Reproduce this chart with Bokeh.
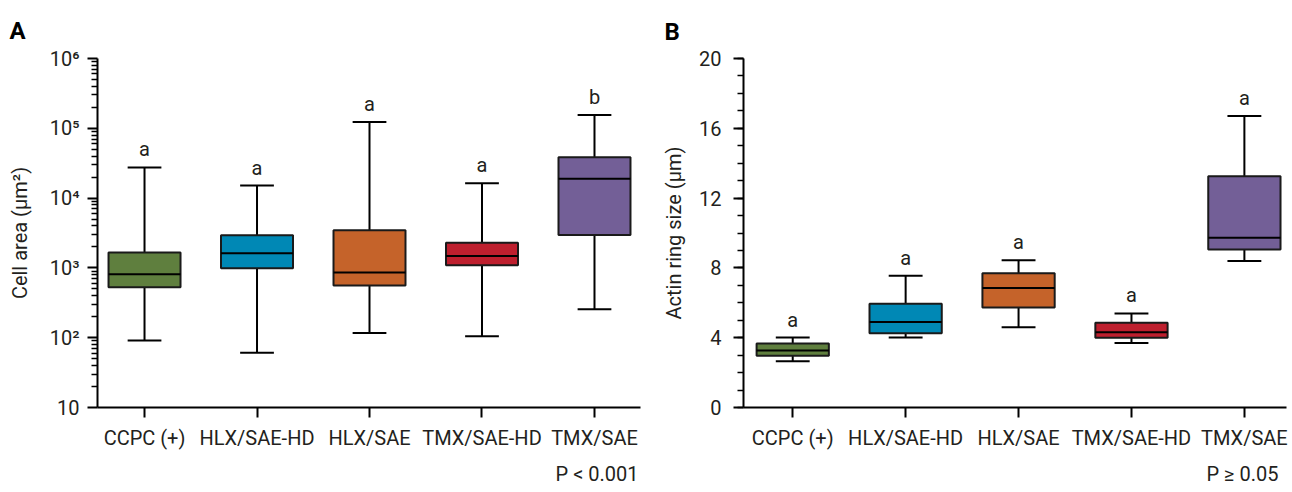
from bokeh.plotting import figure
from bokeh.layouts import row
from bokeh.models import Range1d, FixedTicker, ColumnDataSource, Title
from bokeh.core.properties import value
from bokeh.embed import file_html
from bokeh.resources import INLINE

# ---------------- data ----------------
categories = ["CCPC (+)", "HLX/SAE-HD", "HLX/SAE", "TMX/SAE-HD", "TMX/SAE"]
colors = ["#5f7f3e", "#0088b5", "#c5632a", "#be1f2e", "#735f97"]

area_min = [91, 61, 117, 105, 256]
area_q1 = [527, 990, 560, 1090, 2960]
area_med = [813, 1620, 860, 1480, 19000]
area_q3 = [1660, 2940, 3470, 2290, 38600]
area_max = [27500, 15100, 123000, 16300, 155000]
area_letters = ["a", "a", "a", "a", "b"]

ring_min = [2.65, 4.01, 4.60, 3.69, 8.40]
ring_q1 = [2.97, 4.26, 5.73, 3.99, 9.05]
ring_med = [3.27, 4.90, 6.85, 4.31, 9.73]
ring_q3 = [3.67, 5.94, 7.70, 4.86, 13.25]
ring_max = [4.01, 7.55, 8.44, 5.39, 16.71]
ring_letters = ["a", "a", "a", "a", "a"]

area_ticks = [10, 100, 1000, 10000, 100000, 1000000]
area_tick_labels = ["10", "10²", "10³", "10⁴", "10⁵", "10⁶"]
ring_ticks = [0, 4, 8, 12, 16, 20]

FONT = "Roboto"
TXT = "#231f20"
BOX_W = 0.64
CAP_W = 0.30


def style(p):
    p.outline_line_color = None
    p.xgrid.visible = False
    p.ygrid.visible = False
    for ax in (p.xaxis[0], p.yaxis[0]):
        ax.axis_line_width = 2
        ax.axis_line_color = "black"
        ax.major_tick_line_width = 2
        ax.minor_tick_line_width = 1.5
        ax.major_tick_in = 0
        ax.major_tick_out = 10
        ax.minor_tick_in = 0
        ax.minor_tick_out = 6
        ax.major_label_text_font = FONT
        ax.major_label_text_font_size = "20px"
        ax.major_label_text_color = TXT
        ax.axis_label_text_font = FONT
        ax.axis_label_text_font_size = "20px"
        ax.axis_label_text_font_style = "normal"
        ax.axis_label_text_color = TXT
    p.xaxis.ticker = FixedTicker(ticks=list(range(len(categories))))
    p.xaxis.major_label_overrides = {i: c for i, c in enumerate(categories)}
    p.xaxis.major_label_standoff = 8


def decorate(p, letter, letter_offset, letter_standoff, ptext, p_offset):
    p.title.text = letter
    p.title.align = "left"
    p.title.offset = letter_offset
    p.title.text_font = FONT
    p.title.text_font_size = "24px"
    p.title.text_font_style = "bold"
    p.title.text_color = "black"
    p.title.standoff = letter_standoff
    p.add_layout(Title(text=ptext, align="right", offset=p_offset, text_font=FONT,
                       text_font_size="20px", text_font_style="normal",
                       text_color=TXT, standoff=14), "below")


def boxes(p, lo, q1, med, q3, hi, letters):
    xs = list(range(len(categories)))
    src = ColumnDataSource(dict(x=xs, lo=lo, q1=q1, med=med, q3=q3, hi=hi,
                                color=colors, letter=letters,
                                cl=[x - CAP_W / 2 for x in xs], cr=[x + CAP_W / 2 for x in xs],
                                bl=[x - BOX_W / 2 for x in xs], br=[x + BOX_W / 2 for x in xs]))
    p.segment(x0="x", y0="q3", x1="x", y1="hi", source=src, line_color="black", line_width=2)
    p.segment(x0="x", y0="lo", x1="x", y1="q1", source=src, line_color="black", line_width=2)
    p.segment(x0="cl", y0="hi", x1="cr", y1="hi", source=src, line_color="black", line_width=2)
    p.segment(x0="cl", y0="lo", x1="cr", y1="lo", source=src, line_color="black", line_width=2)
    p.vbar(x="x", bottom="q1", top="q3", width=BOX_W, source=src, fill_color="color",
           line_color="#1a1a1a", line_width=2)
    p.segment(x0="bl", y0="med", x1="br", y1="med", source=src, line_color="black", line_width=2)
    p.text(x="x", y="hi", text="letter", source=src, y_offset=-6, text_align="center",
           text_baseline="bottom", text_font=value(FONT), text_font_size="20px",
           text_color=TXT)


# ---------------- panel A ----------------
pa = figure(width=658, height=492, y_axis_type="log", output_backend="svg",
            toolbar_location=None, x_range=Range1d(-0.418, 4.409),
            y_range=Range1d(10, 1000000),
            min_border_left=97, min_border_right=18, min_border_top=58, min_border_bottom=85)
style(pa)
pa.yaxis.ticker = FixedTicker(ticks=area_ticks,
                              minor_ticks=[k * 10 ** d for d in range(1, 6) for k in range(2, 10)])
pa.yaxis.major_label_overrides = {t: l for t, l in zip(area_ticks, area_tick_labels)}
pa.yaxis.major_label_standoff = 8
pa.yaxis.axis_label = "Cell area (μm²)"
pa.yaxis.axis_label_standoff = 15
boxes(pa, area_min, area_q1, area_med, area_q3, area_max, area_letters)
decorate(pa, "A", -88, 28, "P < 0.001", 2)

# ---------------- panel B ----------------
pb = figure(width=634, height=492, output_backend="svg",
            toolbar_location=None, x_range=Range1d(-0.436, 4.373),
            y_range=Range1d(0, 20),
            min_border_left=85, min_border_right=6, min_border_top=54, min_border_bottom=85)
style(pb)
pb.yaxis.ticker = FixedTicker(ticks=ring_ticks, minor_ticks=list(range(0, 21)))
pb.yaxis.major_label_standoff = 12
pb.yaxis.axis_label = "Actin ring size (μm)"
pb.yaxis.axis_label_standoff = 10
boxes(pb, ring_min, ring_q1, ring_med, ring_q3, ring_max, ring_letters)
decorate(pb, "B", -79, 25, "P ≥ 0.05", 8)

layout = row(pa, pb)
open("out.html", "w").write(file_html(layout, INLINE))
